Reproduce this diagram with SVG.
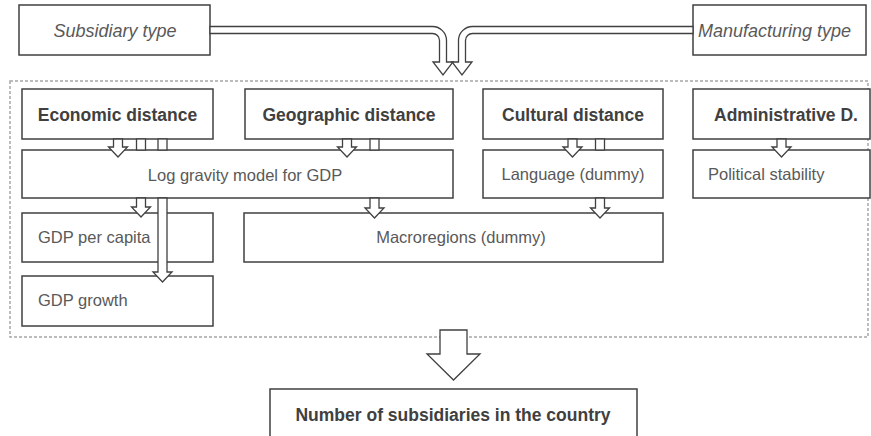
<svg xmlns="http://www.w3.org/2000/svg" width="871" height="436" viewBox="0 0 871 436">
<style>
.box{fill:#fff;stroke:#404040;stroke-width:1.5}
.arr{fill:#fff;stroke:#404040;stroke-width:1.3;stroke-linejoin:miter}
.b{font-family:"Liberation Sans",Arial,sans-serif;font-weight:bold;font-size:17.5px;fill:#404040}
.r{font-family:"Liberation Sans",Arial,sans-serif;font-size:16.5px;fill:#595959}
.i{font-family:"Liberation Sans",Arial,sans-serif;font-style:italic;font-size:18px;fill:#595959}
</style>
<rect width="871" height="436" fill="#fff"/>
<g id="container"><rect x="10" y="81" width="858" height="256" fill="none" stroke="#a6a6a6" stroke-width="1.5" stroke-dasharray="3,2"/></g>
<g id="subsidiary-type"><rect class="box" x="19" y="5" width="191" height="50"/><text class="i" x="115" y="37" text-anchor="middle">Subsidiary type</text></g>
<g id="manufacturing-type"><rect class="box" x="693" y="5" width="173" height="50"/><text class="i" x="698" y="37">Manufacturing type</text></g>
<g id="economic-distance"><rect class="box" x="22" y="89" width="191" height="50"/><text class="b" x="117.5" y="121" text-anchor="middle">Economic distance</text></g>
<g id="geographic-distance"><rect class="box" x="245" y="89" width="208" height="50"/><text class="b" x="349" y="121" text-anchor="middle">Geographic distance</text></g>
<g id="cultural-distance"><rect class="box" x="483" y="89" width="180" height="50"/><text class="b" x="573" y="121" text-anchor="middle">Cultural distance</text></g>
<g id="administrative-d"><rect class="box" x="693" y="89" width="177" height="50"/><text class="b" x="786" y="121" text-anchor="middle">Administrative D.</text></g>
<g id="log-gravity"><rect class="box" x="22" y="150" width="431" height="48"/><text class="r" x="245" y="181" text-anchor="middle">Log gravity model for GDP</text></g>
<g id="language"><rect class="box" x="483" y="150" width="180" height="48"/><text class="r" x="573" y="180" text-anchor="middle">Language (dummy)</text></g>
<g id="political-stability"><rect class="box" x="693" y="150" width="177" height="48"/><text class="r" x="708" y="180">Political stability</text></g>
<g id="gdp-per-capita"><rect class="box" x="22" y="213" width="191" height="49"/><text class="r" x="38" y="243">GDP per capita</text></g>
<g id="gdp-growth"><rect class="box" x="22" y="276" width="191" height="50"/><text class="r" x="38" y="306">GDP growth</text></g>
<g id="macroregions"><rect class="box" x="244" y="213" width="419" height="49"/><text class="r" x="461" y="243" text-anchor="middle">Macroregions (dummy)</text></g>
<g id="number-of-subsidiaries"><rect class="box" x="270" y="389" width="367" height="60"/><text class="b" x="453" y="421" text-anchor="middle">Number of subsidiaries in the country</text></g>
<g id="connectors">
<path class="arr" d="M210,26.5 H432.5 A14,14 0 0 1 446.5,40.5 V62 H453 L443,75 L433,62 H439.5 V40.5 A7,7 0 0 0 432.5,33.5 H210 Z"/>
<path class="arr" d="M693,26.5 H472.5 A14,14 0 0 0 458.5,40.5 V62 H452 L462,75 L472,62 H465.5 V40.5 A7,7 0 0 1 472.5,33.5 H693 Z"/>
<path class="arr" d="M113.5,139 V147 H108.5 L118,157 L127.5,147 H122.5 V139 Z"/>
<rect class="arr" x="136.5" y="139" width="9" height="11"/>
<rect class="arr" x="158" y="139" width="9" height="11"/>
<path class="arr" d="M136.5,198 V207 H131.5 L141,217 L150.5,207 H145.5 V198 Z"/>
<path class="arr" d="M158,198 V272 H153 L162.5,282 L172,272 H167 V198 Z"/>
<path class="arr" d="M342.5,139 V147 H337.5 L347,157 L356.5,147 H351.5 V139 Z"/>
<rect class="arr" x="370" y="139" width="9" height="11"/>
<path class="arr" d="M370,198 V208 H365 L374.5,218 L384,208 H379 V198 Z"/>
<path class="arr" d="M568,139 V147 H563 L572.5,157 L582,147 H577 V139 Z"/>
<rect class="arr" x="595.5" y="139" width="9" height="11"/>
<path class="arr" d="M595.5,198 V208 H590.5 L600,218 L609.5,208 H604.5 V198 Z"/>
<path class="arr" d="M777,139 V147 H772 L781.5,157 L791,147 H786 V139 Z"/>
<path class="arr" d="M440,330 V354 H427 L453.5,380 L480,354 H467 V330 Z" stroke-width="1.5"/>
</g>
</svg>
